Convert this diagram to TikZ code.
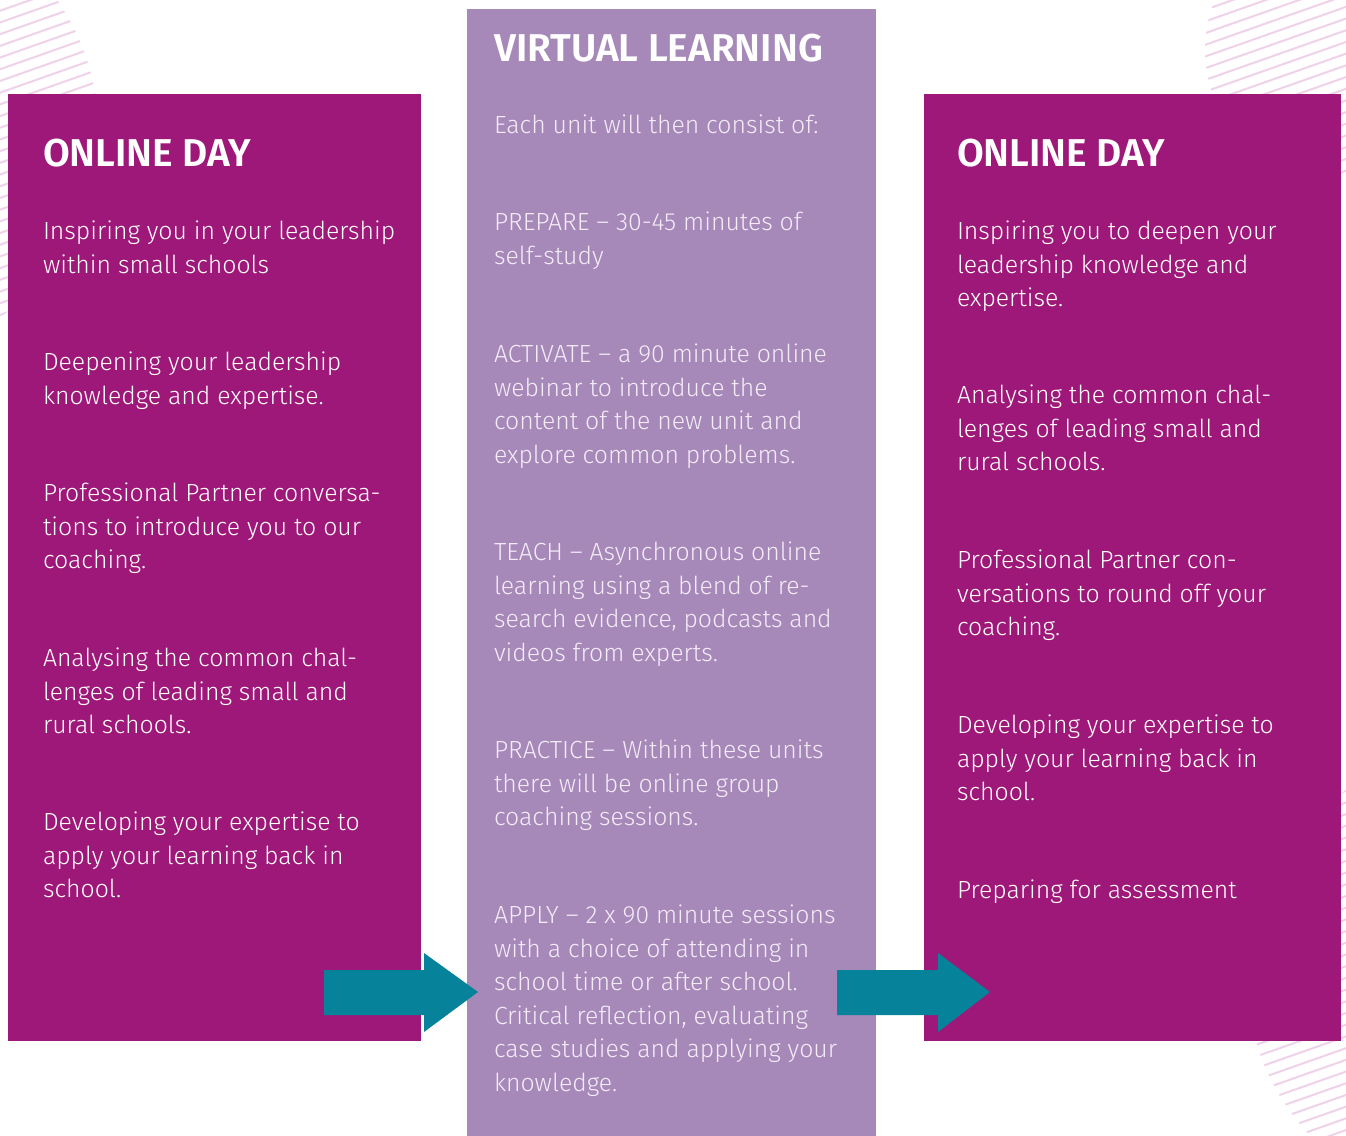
\documentclass[tikz,border=0pt]{standalone}
\usepackage{fontspec}
\setmainfont{Fira Sans}[UprightFont=* Light,BoldFont=* SemiBold]

\definecolor{daypurple}{RGB}{158,24,121}
\definecolor{vlilac}{RGB}{166,136,185}
\definecolor{arrowteal}{RGB}{6,131,154}
\definecolor{hatchpink}{RGB}{239,210,234}
\definecolor{vtext}{RGB}{243,236,247}

\begin{document}
\begin{tikzpicture}
[x=0.5pt,y=-0.5pt,
 every node/.style={anchor=north west,inner sep=0pt,outer sep=0pt,align=left,text=white},
 head/.style={font=\fontsize{19.4}{22}\selectfont\bfseries},
 para/.style={font=\fontsize{12.4}{16.75}\selectfont},
 vpara/.style={para,text=vtext},
 hatch/.style={hatchpink,line width=1pt},
 goarrow/.style={fill=arrowteal}]
\useasboundingbox (0,0) rectangle (1346,1136);

% corner hatching
\begin{scope}
\clip (-130,130) circle (228);
\foreach \k in {-40,...,40} \draw[hatch] (-400,\k*11.7) -- ++(900,-318);
\end{scope}
\begin{scope}
\clip (1335,50) circle (130);
\foreach \k in {-10,...,60} \draw[hatch] (1100,\k*11.7) -- ++(400,-141);
\end{scope}
\begin{scope}
\clip (1475,978) circle (228);
\foreach \k in {60,...,140} \draw[hatch] (1100,\k*11.7) -- ++(400,-141);
\end{scope}

% columns
\fill[daypurple] (8,94) rectangle (421,1041);
\fill[vlilac] (467,9) rectangle (876,1136);
\fill[daypurple] (924,94) rectangle (1341,1041);

% arrows
\fill[goarrow] (324,970) -- (424,970) -- (424,953) -- (478,992) -- (424,1032) -- (424,1015) -- (324,1015) -- cycle;
\fill[goarrow] (837,970) -- (938,970) -- (938,953) -- (990,992) -- (938,1032) -- (938,1015) -- (837,1015) -- cycle;

% first online day
\node[head] (dayAhead) at (43,139) {ONLINE DAY};
\node[para] (dayA1) at (43,221) {Inspiring you in your leadership\\within small schools};
\node[para] (dayA2) at (43,352) {Deepening your leadership\\knowledge and expertise.};
\node[para] (dayA3) at (43,483) {Professional Partner conversa-\\tions to introduce you to our\\coaching.};
\node[para] (dayA4) at (43,648) {Analysing the common chal-\\lenges of leading small and\\rural schools.};
\node[para] (dayA5) at (43,812) {Developing your expertise to\\apply your learning back in\\school.};

% virtual learning
\node[head] (vlhead) at (494,34) {VIRTUAL LEARNING};
\node[vpara] (vl0) at (494,115) {Each unit will then consist of:};
\node[vpara] (vl1) at (494,212) {PREPARE – 30-45 minutes of\\self-study};
\node[vpara] (vl2) at (494,344) {ACTIVATE – a 90 minute online\\webinar to introduce the\\content of the new unit and\\explore common problems.};
\node[vpara] (vl3) at (494,542) {TEACH – Asynchronous online\\learning using a blend of re-\\search evidence, podcasts and\\videos from experts.};
\node[vpara] (vl4) at (494,740) {PRACTICE – Within these units\\there will be online group\\coaching sessions.};
\node[vpara] (vl5) at (494,905) {APPLY – 2 x 90 minute sessions\\with a choice of attending in\\school time or after school.\\Critical reflection, evaluating\\case studies and applying your\\knowledge.};

% second online day
\node[head] (dayBhead) at (957,139) {ONLINE DAY};
\node[para] (dayB1) at (957,221) {Inspiring you to deepen your\\leadership knowledge and\\expertise.};
\node[para] (dayB2) at (957,385) {Analysing the common chal-\\lenges of leading small and\\rural schools.};
\node[para] (dayB3) at (957,550) {Professional Partner con-\\versations to round off your\\coaching.};
\node[para] (dayB4) at (957,715) {Developing your expertise to\\apply your learning back in\\school.};
\node[para] (dayB5) at (957,880) {Preparing for assessment};
\end{tikzpicture}
\end{document}
